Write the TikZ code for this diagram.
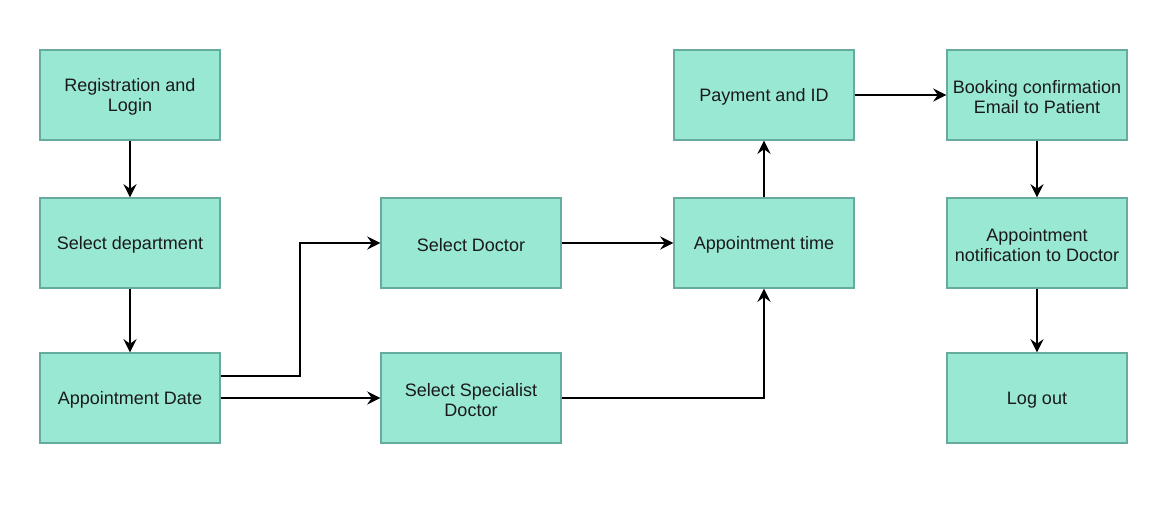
\documentclass[tikz,border=0pt]{standalone}
\usepackage{fontspec}
\setmainfont{Liberation Sans}
\usetikzlibrary{arrows.meta}
\definecolor{boxfill}{HTML}{99E8D3}
\definecolor{boxline}{HTML}{67AB9F}
\definecolor{txt}{HTML}{1A1A1A}
\begin{document}
\begin{tikzpicture}[x=0.75pt,y=-0.75pt,
  box/.style={draw=boxline,fill=boxfill,line width=0.9pt,minimum width=135pt,minimum height=67.5pt,
    inner sep=0pt,align=center,text=txt,font=\fontsize{13.5}{15.5}\selectfont},
  lbl/.style={yshift=-1.5pt},
  conn/.style={line width=1.1pt,-{Stealth[length=10pt,width=10pt,inset=3.5pt]}}]
\useasboundingbox (0,0) rectangle (1173,505);
\node[box] (reg) at (130,95) {};
\node[box] (dep) at (130,243) {};
\node[box] (date) at (130,398) {};
\node[box] (doc) at (471,243) {};
\node[box] (spec) at (471,398) {};
\node[box] (time) at (764,243) {};
\node[box] (pay) at (764,95) {};
\node[box] (book) at (1037,95) {};
\node[box] (notif) at (1037,243) {};
\node[box] (out) at (1037,398) {};
\begin{scope}[every node/.style={align=center,text=txt,font=\fontsize{13.5}{15.5}\selectfont,lbl}]
\node (treg) at (reg) {Registration and\\Login};
\node (tdep) at (dep) {Select department};
\node (tdate) at (date) {Appointment Date};
\node (tdoc) at (doc) {Select Doctor};
\node (tspec) at (spec) {Select Specialist\\Doctor};
\node (ttime) at (time) {Appointment time};
\node (tpay) at (pay) {Payment and ID};
\node (tbook) at (book) {Booking confirmation\\Email to Patient};
\node (tnotif) at (notif) {Appointment\\notification to Doctor};
\node (tout) at (out) {Log out};
\end{scope}
\coordinate (c1) at (300,376);
\coordinate (c2) at (300,243);
\draw[conn] ([yshift=16.5pt]date.east) -- (c1) -- (c2) -- (doc);
\draw[conn] (reg) -- (dep);
\draw[conn] (dep) -- (date);
\draw[conn] (date) -- (spec);
\draw[conn] (doc) -- (time);
\draw[conn] (spec) -| (time);
\draw[conn] (time) -- (pay);
\draw[conn] (pay) -- (book);
\draw[conn] (book) -- (notif);
\draw[conn] (notif) -- (out);
\end{tikzpicture}
\end{document}
